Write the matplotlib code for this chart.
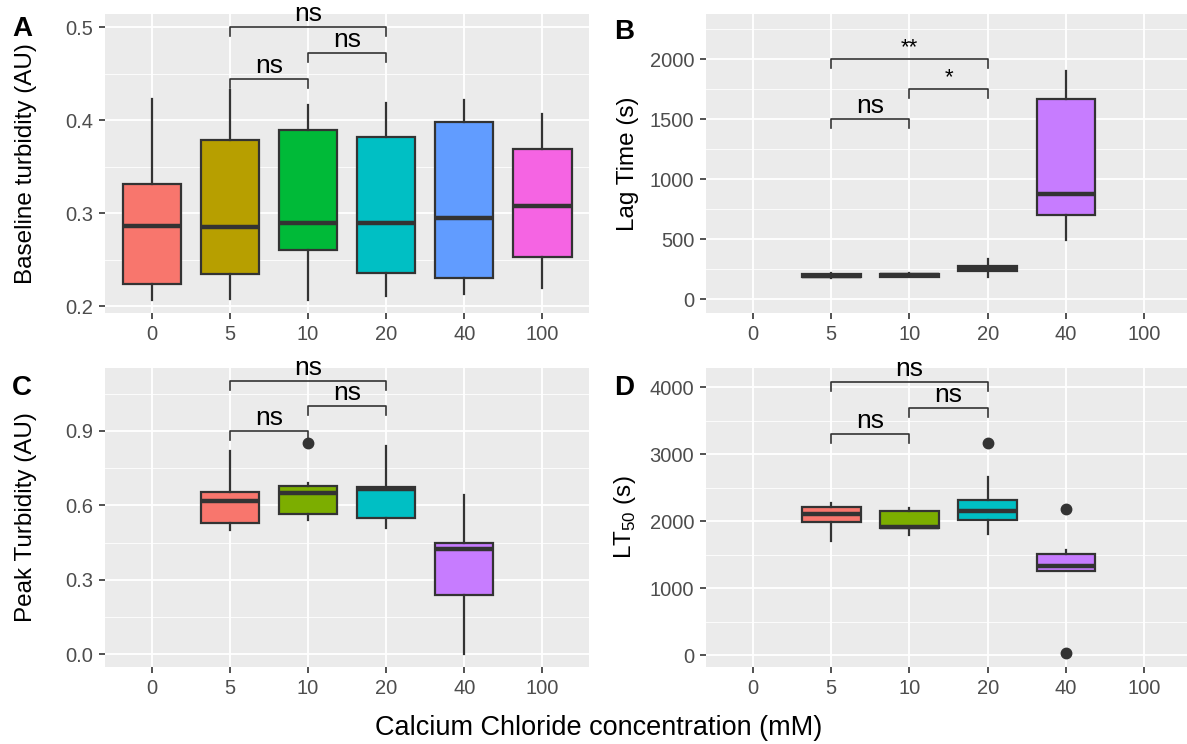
import numpy as np
import matplotlib
matplotlib.use("Agg")
import matplotlib.pyplot as plt
from matplotlib.ticker import MultipleLocator, FormatStrFormatter

plt.rcParams["font.family"] = ["Liberation Sans", "DejaVu Sans"]

# ── Data ──────────────────────────────────────────────────────
categories = ["0", "5", "10", "20", "40", "100"]

# Panel A: baseline turbidity, all six groups
a_groups = ["0", "5", "10", "20", "40", "100"]
a_lo  = [0.207, 0.208, 0.207, 0.211, 0.213, 0.220]
a_q1  = [0.224, 0.235, 0.260, 0.236, 0.230, 0.253]
a_med = [0.286, 0.285, 0.290, 0.290, 0.295, 0.308]
a_q3  = [0.331, 0.379, 0.389, 0.382, 0.398, 0.369]
a_hi  = [0.423, 0.433, 0.416, 0.418, 0.422, 0.407]
a_out = [[], [], [], [], [], []]

# Panel B: lag time (s)
b_groups = ["5", "10", "20", "40"]
b_lo  = [175, 182, 185, 490]
b_q1  = [182, 188, 238, 700]
b_med = [195, 200, 258, 880]
b_q3  = [208, 212, 280, 1665]
b_hi  = [215, 220, 335, 1900]
b_out = [[], [], [], []]

# Panel C: peak turbidity (AU)
c_groups = ["5", "10", "20", "40"]
c_lo  = [0.50, 0.54, 0.51, 0.00]
c_q1  = [0.527, 0.567, 0.548, 0.240]
c_med = [0.617, 0.648, 0.665, 0.425]
c_q3  = [0.655, 0.680, 0.675, 0.450]
c_hi  = [0.82, 0.69, 0.84, 0.64]
c_out = [[], [0.853], [], []]

# Panel D: LT50 (s)
d_groups = ["5", "10", "20", "40"]
d_lo  = [1700, 1790, 1800, 1250]
d_q1  = [1990, 1890, 2010, 1250]
d_med = [2100, 1905, 2150, 1330]
d_q3  = [2210, 2150, 2310, 1510]
d_hi  = [2270, 2200, 2660, 1560]
d_out = [[], [], [3170], [2180, 30]]

# significance brackets: (group1, group2, y, label)
a_sig = [("5", "10", 0.444, "ns"), ("10", "20", 0.472, "ns"), ("5", "20", 0.500, "ns")]
b_sig = [("5", "10", 1500, "ns"), ("10", "20", 1750, "*"), ("5", "20", 2000, "**")]
c_sig = [("5", "10", 0.90, "ns"), ("10", "20", 1.00, "ns"), ("5", "20", 1.10, "ns")]
d_sig = [("5", "10", 3300, "ns"), ("10", "20", 3680, "ns"), ("5", "20", 4070, "ns")]

hue6 = ["#F8766D", "#B79F00", "#00BA38", "#00BFC4", "#619CFF", "#F564E3"]
hue4 = ["#F8766D", "#7CAE00", "#00BFC4", "#C77CFF"]

DARK = "#333333"


def style_axes(ax, ylim, major, fmt):
    ax.set_facecolor("#EBEBEB")
    for s in ax.spines.values():
        s.set_visible(False)
    ax.set_xlim(0.4, len(categories) + 0.6)
    ax.set_ylim(*ylim)
    ax.set_xticks(range(1, len(categories) + 1))
    ax.set_xticklabels(categories)
    ax.yaxis.set_major_locator(MultipleLocator(major))
    ax.yaxis.set_minor_locator(MultipleLocator(major / 2))
    ax.yaxis.set_major_formatter(FormatStrFormatter(fmt))
    ax.set_axisbelow(True)
    ax.grid(which="major", color="white", linewidth=1.3)
    ax.grid(which="minor", axis="y", color="white", linewidth=0.6)
    ax.tick_params(which="major", length=4, width=1.2, color=DARK,
                   labelsize=14.5, labelcolor="#4D4D4D", pad=4.5)
    ax.tick_params(which="minor", length=0)


def draw_boxes(ax, groups, lo, q1, med, q3, hi, out, colors):
    stats = []
    for i in range(len(groups)):
        stats.append(dict(whislo=lo[i], q1=q1[i], med=med[i], q3=q3[i],
                          whishi=hi[i], fliers=out[i]))
    pos = [categories.index(g) + 1 for g in groups]
    bp = ax.bxp(stats, positions=pos, widths=0.75, patch_artist=True,
                showcaps=False, manage_ticks=False,
                boxprops=dict(edgecolor=DARK, linewidth=1.6),
                medianprops=dict(color=DARK, linewidth=3.2),
                whiskerprops=dict(color=DARK, linewidth=1.6),
                flierprops=dict(marker="o", markerfacecolor=DARK,
                                markeredgecolor=DARK, markersize=7.5))
    for patch, col in zip(bp["boxes"], colors):
        patch.set_facecolor(col)


def draw_sig(ax, sigs, fs_map):
    y0, y1 = ax.get_ylim()
    tip = 0.03 * (y1 - y0)
    for g1, g2, y, lab in sigs:
        x1 = categories.index(g1) + 1
        x2 = categories.index(g2) + 1
        ax.plot([x1, x1, x2, x2], [y - tip, y, y, y - tip], color=DARK,
                linewidth=1.2, clip_on=False)
        ax.text((x1 + x2) / 2, y + 0.004 * (y1 - y0), lab, ha="center",
                va="bottom", fontsize=fs_map.get(lab, 19), color="black",
                clip_on=False)


fig = plt.figure(figsize=(11.87, 7.44), dpi=100)

axA = fig.add_axes([0.0885, 0.579, 0.4078, 0.4019])
axB = fig.add_axes([0.5948, 0.579, 0.4086, 0.4019])
axC = fig.add_axes([0.0885, 0.1035, 0.4078, 0.4019])
axD = fig.add_axes([0.5948, 0.1035, 0.4086, 0.4019])

style_axes(axA, (0.1925, 0.514), 0.1, "%.1f")
style_axes(axB, (-117, 2375), 500, "%d")
style_axes(axC, (-0.052, 1.154), 0.3, "%.1f")
style_axes(axD, (-179, 4284), 1000, "%d")

draw_boxes(axA, a_groups, a_lo, a_q1, a_med, a_q3, a_hi, a_out, hue6)
draw_boxes(axB, b_groups, b_lo, b_q1, b_med, b_q3, b_hi, b_out, hue4)
draw_boxes(axC, c_groups, c_lo, c_q1, c_med, c_q3, c_hi, c_out, hue4)
draw_boxes(axD, d_groups, d_lo, d_q1, d_med, d_q3, d_hi, d_out, hue4)

fs = {"ns": 19, "*": 16, "**": 16}
draw_sig(axA, a_sig, fs)
draw_sig(axB, b_sig, fs)
draw_sig(axC, c_sig, fs)
draw_sig(axD, d_sig, fs)

axA.set_ylabel("Baseline turbidity (AU)", fontsize=17.5, labelpad=20)
axB.set_ylabel("Lag Time (s)", fontsize=17.5, labelpad=8)
axC.set_ylabel("Peak Turbidity (AU)", fontsize=17.5, labelpad=20)
axD.set_ylabel(r"LT$_{\mathregular{50}}$ (s)", fontsize=17.5, labelpad=8)

for lab, x, y in [("A", 0.010, 0.978), ("B", 0.517, 0.975),
                  ("C", 0.010, 0.496), ("D", 0.517, 0.496)]:
    fig.text(x, y, lab, fontsize=20, fontweight="bold", va="top", ha="left")

fig.text(0.504, 0.022, "Calcium Chloride concentration (mM)", fontsize=19.5,
         ha="center", va="center")

fig.savefig("out.png", dpi=100)
